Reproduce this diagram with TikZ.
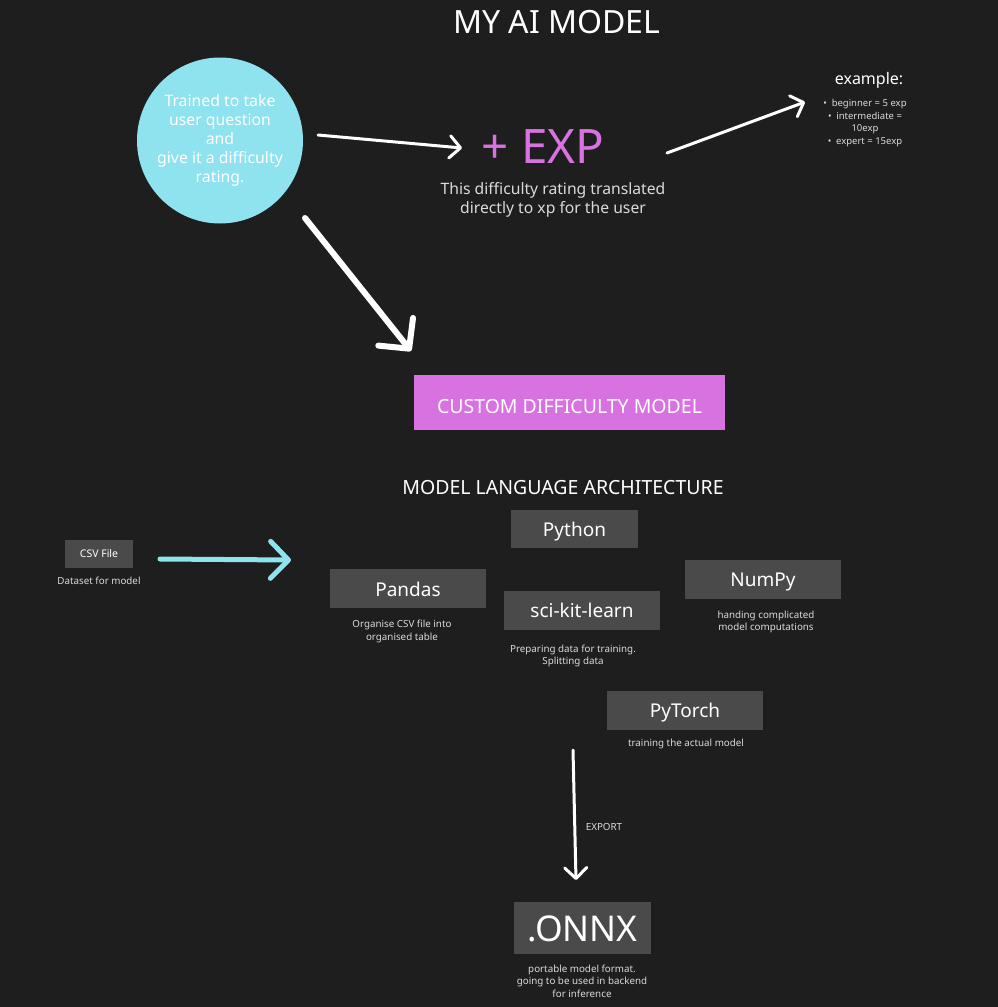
\documentclass[tikz,border=0pt]{standalone}
\usepackage{fontspec}
\setmainfont{Noto Sans}
\usetikzlibrary{arrows.meta}
\definecolor{bg}{HTML}{1E1E1E}
\definecolor{boxgray}{HTML}{4A4A4A}
\definecolor{ball}{HTML}{8EE3EF}
\definecolor{pinky}{HTML}{D972E1}
\definecolor{capgray}{HTML}{DADADA}
\tikzset{
box/.style = {fill=boxgray, text=white, minimum width=#1, minimum height=39pt,
              inner sep=0pt, outer sep=0pt, font=\fontsize{19}{21}\selectfont,
              text height=15pt, text depth=0pt},
box/.default = 156pt, % width of the tool boxes
caption/.style = {text=capgray, align=center, font=\fontsize{9.8}{12.5}\selectfont},
arr/.style = {draw=#1, line cap=round,
              -{Straight Barb[round, length=0pt 3.6, width=0pt 7.4]}},
arr/.default = white
}

\begin{document}
\begin{tikzpicture}[x=1pt, y=-1pt]
	\def \thin{3pt}
	\def \thick{6pt}

	\fill[bg] (0,0) rectangle (998,1007);
	\useasboundingbox (0,0) rectangle (998,1007);

	% Title
	\node[text=white, font=\fontsize{32}{34}\selectfont] (title) at (557,22) {MY AI MODEL};

	% Top row
	\node[circle, fill=ball, minimum size=166pt, inner sep=0pt, text=white, align=center,
	      font=\fontsize{15.8}{19}\selectfont] (trained) at (220,140.5)
	      {Trained to take\\user question\\and\\give it a difficulty\\rating.};
	\node[text=pinky, font=\fontsize{47.5}{50}\selectfont] (exp) at (543,147) {+ EXP};
	\node[text=capgray, align=center, font=\fontsize{15.7}{19}\selectfont] (xpnote) at (553,200)
	      {This difficulty rating translated\\directly to xp for the user};
	\node[text=white, font=\fontsize{16}{18}\selectfont] (example) at (869,80) {example:};
	\node[text=capgray, align=center, font=\fontsize{9.5}{12.5}\selectfont] (levels) at (865,123)
	      {\textbullet\enspace beginner = 5 exp\\\textbullet\enspace intermediate =\\10exp\\\textbullet\enspace expert = 15exp};

	% Arrow ends
	\coordinate (rateout) at (318,135);
	\coordinate (expin)   at (462,148);
	\coordinate (expout)  at (667,153);
	\coordinate (exin)    at (805,102);
	\coordinate (down0)   at (305,218);
	\coordinate (down1)   at (411,351);
	\coordinate (csvout)  at (160,559);
	\coordinate (csvin)   at (291,560);
	\coordinate (torchout) at (573,750);
	\coordinate (onnxin)  at (576,880);

	\draw[arr, line width=\thin] (rateout) -- (expin);
	\draw[arr, line width=\thin] (expout) -- (exin);
	\draw[arr, line width=\thick] (down0) -- (down1);

	% Model
	\node[fill=pinky, minimum width=311pt, minimum height=55pt, inner sep=0pt, text=white,
	      font=\fontsize{19.5}{21}\selectfont, text height=21pt, text depth=0pt] (custom) at (569.5,402.5) {CUSTOM DIFFICULTY MODEL};
	\node[text=white, font=\fontsize{19.5}{21}\selectfont] (arch) at (563,488) {MODEL LANGUAGE ARCHITECTURE};

	% Tools
	\node[box=127pt, minimum height=38pt] (python) at (574.5,529) {Python};
	\node[box] (pandas)  at (408,588.5) {Pandas};
	\node[box] (sklearn) at (582,610) {sci-kit-learn};
	\node[box] (numpy)   at (763,579) {NumPy};
	\node[box] (pytorch) at (685,710) {PyTorch};
	\node[box=68pt, minimum height=28pt, font=\fontsize{10.5}{12}\selectfont, text height=7.5pt] (csv) at (99,554) {CSV File};
	\node[box=137pt, minimum height=52pt, font=\fontsize{35.5}{38}\selectfont, text height=27.5pt] (onnx) at (582.5,928) {.ONNX};

	% Captions
	\node[caption] (csvcap)    at (99,581)  {Dataset for model};
	\node[caption] (pandascap) at (402,631.5) {Organise CSV file into\\organised table};
	\node[caption] (sklcap)    at (573,656) {Preparing data for training.\\Splitting data};
	\node[caption] (numpycap)  at (766,622) {handing complicated\\model computations};
	\node[caption] (torchcap)  at (686,743.5) {training the actual model};
	\node[caption] (onnxcap)   at (582,981) {portable model format.\\going to be used in backend\\for inference};

	\draw[arr=ball, line width=5pt] (csvout) -- (csvin);
	\draw[arr, line width=\thin] (torchout) -- (onnxin);
	\node[caption, font=\fontsize{9.8}{11}\selectfont] (export) at (604,827) {EXPORT};

\end{tikzpicture}
\end{document}
